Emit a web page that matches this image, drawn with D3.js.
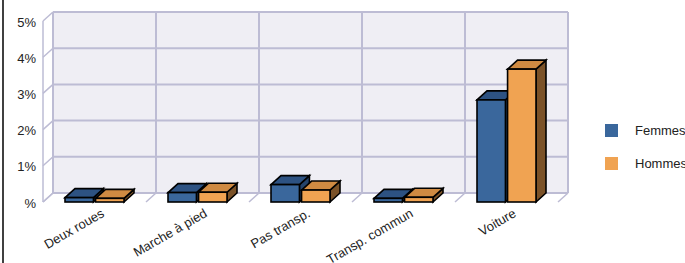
<!DOCTYPE html>
<html>
<head>
<meta charset="utf-8">
<script src="https://cdn.jsdelivr.net/npm/d3@7"></script>
<style>
  body { margin: 0; background: #fff; }
  text { font-family: "Liberation Sans", Arial, sans-serif; }
</style>
</head>
<body>
<svg id="chart" width="685" height="263"></svg>
<script>
// data (percent)
var categories = ["Deux roues", "Marche à pied", "Pas transp.", "Transp. commun", "Voiture"];
var series = ["Femmes", "Hommes"];
var femmes = [0.12, 0.26, 0.48, 0.10, 2.82];
var hommes = [0.10, 0.27, 0.33, 0.13, 3.67];
var yTicks = [0, 1, 2, 3, 4, 5];
var yTickLabels = ["%", "1%", "2%", "3%", "4%", "5%"];

var svg = d3.select("#chart");
var dx = 10, dy = 9;   // depth offset of the 3d box

var colors = {
  Femmes: { front: "#3a679c", top: "#2d5282", side: "#24436b" },
  Hommes: { front: "#f0a352", top: "#cf8a42", side: "#7b5228" }
};

var x = d3.scaleBand().domain(categories).range([43, 558]);
var xs = d3.scaleBand().domain(series).range([22, 81]).paddingInner(0.07);
var y = d3.scaleLinear().domain([0, 5]).range([202, 21]);

// left border line
svg.append("line").attr("x1", 3).attr("x2", 3).attr("y1", 0).attr("y2", 263)
  .attr("stroke", "#000").attr("stroke-width", 1.5);

var grid = "#bdbcd4";

// back wall
svg.append("rect")
  .attr("x", x.range()[0] + dx).attr("y", y(5) - dy)
  .attr("width", x.range()[1] - x.range()[0]).attr("height", y(0) - y(5))
  .attr("fill", "#efeef4");

var g = svg.append("g");

// horizontal grid on the back wall + diagonals on the left wall
yTicks.forEach(function (t) {
  g.append("line")
    .attr("x1", x.range()[0] + dx).attr("x2", x.range()[1] + dx)
    .attr("y1", y(t) - dy).attr("y2", y(t) - dy)
    .attr("stroke", grid).attr("stroke-width", 2);
  g.append("line")
    .attr("x1", x.range()[0]).attr("x2", x.range()[0] + dx)
    .attr("y1", y(t)).attr("y2", y(t) - dy)
    .attr("stroke", grid).attr("stroke-width", 1.5);
});

// vertical grid on the back wall + diagonals on the floor
var edges = categories.map(function (c) { return x(c); }).concat([x.range()[1]]);
edges.forEach(function (ex) {
  g.append("line")
    .attr("x1", ex + dx).attr("x2", ex + dx)
    .attr("y1", y(5) - dy).attr("y2", y(0) - dy)
    .attr("stroke", grid).attr("stroke-width", 2);
  g.append("line")
    .attr("x1", ex).attr("x2", ex + dx)
    .attr("y1", y(0)).attr("y2", y(0) - dy)
    .attr("stroke", grid).attr("stroke-width", 1.5);
});

// left front edge
g.append("line")
  .attr("x1", x.range()[0]).attr("x2", x.range()[0])
  .attr("y1", y(5)).attr("y2", y(0))
  .attr("stroke", grid).attr("stroke-width", 1.5);

// y axis labels
var yAxis = d3.axisLeft(y).tickValues(yTicks).tickSize(0).tickPadding(0)
  .tickFormat(function (d, i) { return yTickLabels[i]; });
svg.append("g").attr("transform", "translate(36,1)").call(yAxis)
  .call(function (s) { s.select(".domain").remove(); })
  .selectAll("text").attr("font-size", 13).attr("fill", "#222")
  .attr("font-family", "Liberation Sans, Arial, sans-serif");

// bars
var rows = categories.map(function (c, i) {
  return [{ cat: c, s: "Femmes", v: femmes[i] }, { cat: c, s: "Hommes", v: hommes[i] }];
});

var bars = svg.append("g");
rows.forEach(function (row) {
  row.forEach(function (d) {
    var x0 = x(d.cat) + xs(d.s), w = xs.bandwidth();
    var yt = y(d.v), yb = y(0);
    var col = colors[d.s];
    var b = bars.append("g")
      .attr("stroke", "#000").attr("stroke-width", 1.6).attr("stroke-linejoin", "miter");
    b.append("polygon")
      .attr("points", [[x0 + w, yt], [x0 + w + dx, yt - dy], [x0 + w + dx, yb - dy], [x0 + w, yb]].join(" "))
      .attr("fill", col.side);
    b.append("polygon")
      .attr("points", [[x0, yt], [x0 + dx, yt - dy], [x0 + w + dx, yt - dy], [x0 + w, yt]].join(" "))
      .attr("fill", col.top);
    b.append("rect")
      .attr("x", x0).attr("y", yt).attr("width", w).attr("height", yb - yt)
      .attr("fill", col.front);
  });
});

// x axis labels
var xAxis = d3.axisBottom(x).tickSize(0).tickPadding(0);
svg.append("g").attr("transform", "translate(6,208)").call(xAxis)
  .call(function (s) { s.select(".domain").remove(); })
  .selectAll("text")
  .attr("font-size", 13).attr("fill", "#222")
  .attr("font-family", "Liberation Sans, Arial, sans-serif")
  .attr("text-anchor", "end").attr("dy", "0.7em").attr("y", 0)
  .attr("transform", "rotate(-30)");

// legend
var legend = svg.append("g").attr("transform", "translate(605,124)");
series.forEach(function (s, i) {
  var lg = legend.append("g").attr("transform", "translate(0," + (i * 33) + ")");
  lg.append("rect").attr("width", 13).attr("height", 13).attr("fill", colors[s].front);
  lg.append("text").attr("x", 30).attr("y", 6.5).attr("dy", "0.35em")
    .attr("font-size", 13).attr("fill", "#222").text(s);
});
</script>
</body>
</html>
